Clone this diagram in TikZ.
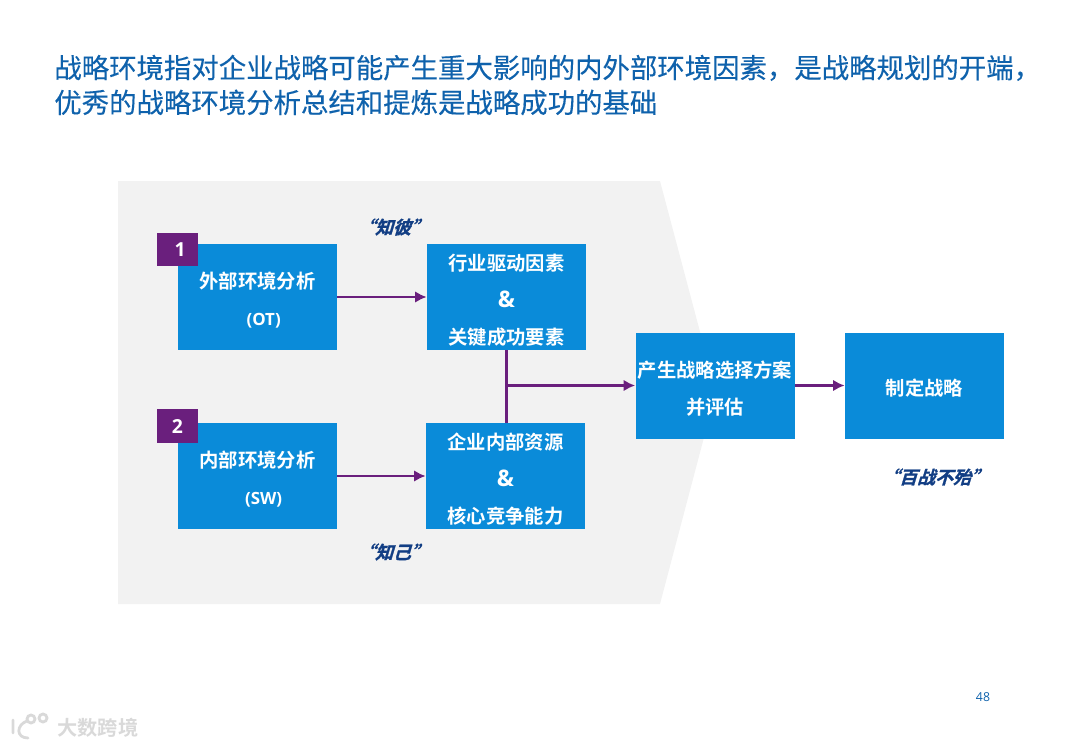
\documentclass[tikz,border=0pt]{standalone}
\usepackage{fontspec}
\usepackage{xcolor}
\usetikzlibrary{arrows.meta}
\setmainfont[BoldFont={Noto Sans CJK SC Bold}]{Noto Sans CJK SC}
\newfontfamily\latinfont{Open Sans}
\newfontfamily\titlefont[FakeBold=0.25]{Noto Sans CJK SC}
\newfontfamily\slantfont[FakeSlant=0.3,FakeBold=1.2]{Noto Sans CJK SC Bold}
\definecolor{titleblue}{HTML}{0F62AC}
\definecolor{boxblue}{HTML}{0A8BD9}
\definecolor{tagpurple}{HTML}{6A1F7D}
\definecolor{navy}{HTML}{123E84}
\definecolor{panelgray}{HTML}{F2F2F2}
\tikzset{
    bluebox/.style={fill=boxblue,minimum width=159*0.02cm,minimum height=106*0.02cm,inner sep=0pt},
    boxtext/.style={text=white,inner sep=0pt,align=center,font=\fontsize{11}{21}\selectfont\bfseries},
    numtag/.style={fill=tagpurple,text=white,minimum width=41*0.02cm,minimum height=33.5*0.02cm,
        inner sep=0pt,font=\fontsize{11}{13}\selectfont\latinfont\bfseries},
    saying/.style={text=navy,inner sep=0pt,font=\fontsize{10.2}{12}\selectfont\slantfont},
    flowline/.style={draw=tagpurple,line width=1.5pt,-{Latex[length=6.5pt,width=6.5pt]}}
}
\newcommand{\lt}[1]{{\fontsize{9.6}{21}\selectfont\latinfont #1}}
\newcommand{\amp}{{\fontsize{13}{21}\selectfont\latinfont\&}}
\begin{document}
\begin{tikzpicture}[x=0.02cm,y=-0.02cm]
    \useasboundingbox (0,0) rectangle (1080,748);
    % background panel
    \fill[panelgray] (118,181) -- (660,181) -- (716,392) -- (660,604) -- (118,604) -- cycle;
    \node[anchor=west,inner sep=0pt,align=left,text=titleblue,font=\fontsize{15.6}{19.8}\selectfont\titlefont] (title) at (54,85)
        {战略环境指对企业战略可能产生重大影响的内外部环境因素，是战略规划的开端，\\优秀的战略环境分析总结和提炼是战略成功的基础};
    % boxes
    \foreach \nm/\x/\y/\txt in {
        ext/257.5/297/{外部环境分析\\\hspace{7pt}\lt{(OT)}},
        intl/257.5/476/{内部环境分析\\\hspace{7pt}\lt{(SW)}},
        ind/506.5/297/{行业驱动因素\\\amp\\关键成功要素},
        res/505.5/476/{企业内部资源\\\amp\\核心竞争能力},
        opt/715/385.5/{产生战略选择方案\\并评估},
        plan/924.5/385.5/{制定战略}} {
        \node[bluebox] (\nm) at (\x,\y) {};
        \node[boxtext] (\nm text) at ([yshift=-1.7pt]\nm.center) {\txt};
    }
    \node[numtag,text depth=0pt] (one) at (177.5,249.5) {\hspace{3pt}1};
    \node[numtag,text depth=0pt] (two) at (177.5,426) {2};
    % connectors
    \draw[flowline] (ext) -- (ind);
    \draw[flowline] (intl) -- (res);
    \draw[draw=tagpurple,line width=1.5pt] (ind.south) -- (ind.south |- res.north);
    \coordinate (join) at (ind.south |- opt.west);
    \draw[flowline] (join) -- (opt);
    \draw[flowline] (opt) -- (plan);
    % sayings
    \node[saying] (know1) at (393,227) {“知彼”};
    \node[saying] (know2) at (393,552) {“知己”};
    \node[saying] (win) at (935,477) {“百战不殆”};
    \node[text=titleblue,inner sep=0pt,font=\fontsize{7}{9}\selectfont\latinfont] (page) at (983,697) {48};
    % watermark
    \node[text=gray!30,inner sep=0pt,font=\fontsize{11.5}{13}\selectfont\bfseries] (mark) at (98,728) {大数跨境};
    \draw[gray!30,line width=1.6pt,line cap=round] (13,720) -- (13,733) (27,721) .. controls (16,725) and (16,738) .. (28,738)
        (31,719) circle (4) (43,718) circle (4);
\end{tikzpicture}
\end{document}
